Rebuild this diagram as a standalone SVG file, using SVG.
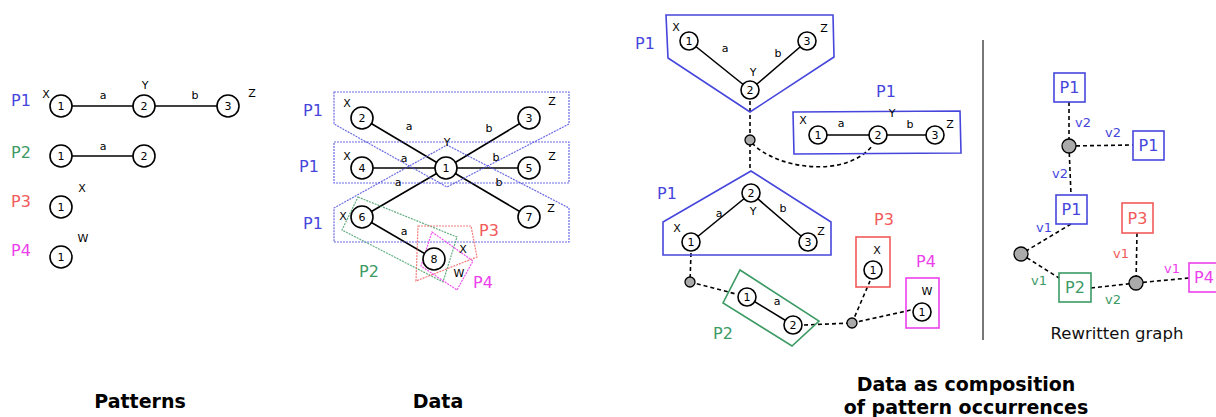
<svg xmlns="http://www.w3.org/2000/svg" width="1216" height="417" viewBox="0 0 1216 417">
<style>
text{font-family:"DejaVu Sans","Liberation Sans",sans-serif}
.n circle{fill:#fff;stroke:#000;stroke-width:1.6}
.n text{font-size:11px;text-anchor:middle;dominant-baseline:central;fill:#000}
.lb{font-size:11px;text-anchor:middle;dominant-baseline:central;fill:#000}
.e{stroke:#000;stroke-width:1.6;fill:none}
.d{stroke:#000;stroke-width:1.6;fill:none;stroke-dasharray:4 3}
.P{font-size:16px;text-anchor:middle;dominant-baseline:central}
.c1{fill:#4646dc}.c2{fill:#3c9a64}.c3{fill:#f25a5a}.c4{fill:#ec40ec}
.s1{stroke:#4646dc}.s2{stroke:#3c9a64}.s3{stroke:#f25a5a}.s4{stroke:#ec40ec}
.bx{fill:none;stroke-width:1.6}
.dp{fill:none;stroke-width:1.2;stroke-dasharray:2 1}
.dot{fill:#aaa;stroke:#000;stroke-width:1.3}
.t{font-size:19px;font-weight:bold;text-anchor:middle;fill:#000}
.v{font-size:13px;text-anchor:middle;dominant-baseline:central}
</style>

<!-- Connectors -->
<g id="connectors">
  <line class="e" x1="61" y1="106" x2="144" y2="106"/>
  <line class="e" x1="144" y1="106" x2="228" y2="106"/>
  <line class="e" x1="61" y1="156" x2="144" y2="156"/>
  <line class="e" x1="362" y1="118" x2="446" y2="168"/>
  <line class="e" x1="362" y1="168" x2="446" y2="168"/>
  <line class="e" x1="362" y1="217" x2="446" y2="168"/>
  <line class="e" x1="529" y1="118" x2="446" y2="168"/>
  <line class="e" x1="529" y1="168" x2="446" y2="168"/>
  <line class="e" x1="529" y1="217" x2="446" y2="168"/>
  <line class="e" x1="362" y1="217" x2="434" y2="259"/>
  <line class="e" x1="689" y1="41" x2="750" y2="90"/>
  <line class="e" x1="807" y1="41" x2="750" y2="90"/>
  <line class="e" x1="818" y1="135" x2="878" y2="135"/>
  <line class="e" x1="878" y1="135" x2="935" y2="135"/>
  <line class="e" x1="751" y1="193" x2="691" y2="242"/>
  <line class="e" x1="751" y1="193" x2="808" y2="242"/>
  <line class="e" x1="747" y1="297" x2="793" y2="325"/>
  <line class="d" x1="750" y1="101" x2="750" y2="171"/>
  <path class="d" d="M752,143 C775,168 845,180 873,145"/>
  <line class="d" x1="691" y1="253" x2="690" y2="282"/>
  <line class="d" x1="690" y1="282" x2="736" y2="294"/>
  <line class="d" x1="804" y1="325" x2="852" y2="323"/>
  <line class="d" x1="852" y1="323" x2="870" y2="281"/>
  <line class="d" x1="852" y1="323" x2="911" y2="310"/>
  <line class="d" x1="1069" y1="102" x2="1069" y2="146"/>
  <line class="d" x1="1069" y1="146" x2="1133" y2="145"/>
  <line class="d" x1="1069" y1="146" x2="1071" y2="195"/>
  <line class="d" x1="1071" y1="224" x2="1021" y2="254"/>
  <line class="d" x1="1021" y1="254" x2="1059" y2="278"/>
  <line class="d" x1="1091" y1="288" x2="1136" y2="283"/>
  <line class="d" x1="1137" y1="233" x2="1136" y2="283"/>
  <line class="d" x1="1136" y1="283" x2="1189" y2="278"/>
</g>

<!-- Patterns -->
<g id="patterns">
  <text class="P c1" x="21" y="100">P1</text>
  <text class="P c2" x="21" y="152">P2</text>
  <text class="P c3" x="21" y="201">P3</text>
  <text class="P c4" x="21" y="250">P4</text>
  <g class="n" id="p1n1"><circle cx="61" cy="106" r="11"/><text x="61" y="106">1</text></g>
  <g class="n" id="p1n2"><circle cx="144" cy="106" r="11"/><text x="144" y="106">2</text></g>
  <g class="n" id="p1n3"><circle cx="228" cy="106" r="11"/><text x="228" y="106">3</text></g>
  <text class="lb" x="46" y="94">X</text><text class="lb" x="103" y="95">a</text><text class="lb" x="145" y="85">Y</text><text class="lb" x="195" y="95">b</text><text class="lb" x="252" y="93">Z</text>
  <g class="n" id="p2n1"><circle cx="61" cy="156" r="11"/><text x="61" y="156">1</text></g>
  <g class="n" id="p2n2"><circle cx="144" cy="156" r="11"/><text x="144" y="156">2</text></g>
  <text class="lb" x="103" y="146">a</text>
  <g class="n" id="p3n1"><circle cx="61" cy="207" r="11"/><text x="61" y="207">1</text></g>
  <text class="lb" x="82" y="188">X</text>
  <g class="n" id="p4n1"><circle cx="61" cy="257" r="11"/><text x="61" y="257">1</text></g>
  <text class="lb" x="83" y="238">W</text>
</g>

<!-- Data -->
<g id="data">
  <polygon class="dp s1" opacity="0.8" points="334,92 569,92 569,124 447,187 334,124"/>
  <polygon class="dp s1" opacity="0.8" points="334,142 569,142 569,183 334,183"/>
  <polygon class="dp s1" opacity="0.8" points="334,242 569,242 569,208 447,145 334,208"/>
  <polygon class="dp s2" opacity="0.8" points="358,197 457,237 443,282 342,230"/>
  <polygon class="dp s3" opacity="0.8" points="418,226 471,226 477,257 416,281"/>
  <polygon class="dp s4" opacity="0.9" points="432,232 473,261 457,290 421,266"/>
  <g class="n" id="d1"><circle cx="446" cy="168" r="11"/><text x="446" y="168">1</text></g>
  <g class="n" id="d2"><circle cx="362" cy="118" r="11"/><text x="362" y="118">2</text></g>
  <g class="n" id="d3"><circle cx="529" cy="118" r="11"/><text x="529" y="118">3</text></g>
  <g class="n" id="d4"><circle cx="362" cy="168" r="11"/><text x="362" y="168">4</text></g>
  <g class="n" id="d5"><circle cx="529" cy="168" r="11"/><text x="529" y="168">5</text></g>
  <g class="n" id="d6"><circle cx="362" cy="217" r="11"/><text x="362" y="217">6</text></g>
  <g class="n" id="d7"><circle cx="529" cy="217" r="11"/><text x="529" y="217">7</text></g>
  <g class="n" id="d8"><circle cx="434" cy="259" r="11"/><text x="434" y="259">8</text></g>
  <text class="lb" x="347" y="103">X</text><text class="lb" x="552" y="101">Z</text>
  <text class="lb" x="409" y="126">a</text><text class="lb" x="489" y="128">b</text>
  <text class="lb" x="447" y="142">Y</text>
  <text class="lb" x="347" y="156">X</text><text class="lb" x="404" y="158">a</text><text class="lb" x="496" y="157">b</text><text class="lb" x="552" y="156">Z</text>
  <text class="lb" x="398" y="182">a</text><text class="lb" x="499" y="182">b</text>
  <text class="lb" x="343" y="216">X</text><text class="lb" x="551" y="208">Z</text>
  <text class="lb" x="404" y="231">a</text>
  <text class="lb" x="463" y="249">X</text><text class="lb" x="459" y="273">W</text>
  <text class="P c1" x="313" y="110">P1</text>
  <text class="P c1" x="309" y="166">P1</text>
  <text class="P c1" x="313" y="223">P1</text>
  <text class="P c2" x="369" y="271">P2</text>
  <text class="P c3" x="489" y="230">P3</text>
  <text class="P c4" x="483" y="282">P4</text>
</g>

<!-- Composition -->
<g id="occ-p1-top">
  <polygon class="bx s1" points="666,15 833,15 834,57 750,112 668,58"/>
  <g class="n"><circle cx="689" cy="41" r="9"/><text x="689" y="41">1</text></g>
  <g class="n"><circle cx="807" cy="41" r="9"/><text x="807" y="41">3</text></g>
  <g class="n"><circle cx="750" cy="90" r="9"/><text x="750" y="90">2</text></g>
  <text class="lb" x="676" y="27">X</text><text class="lb" x="725" y="48">a</text><text class="lb" x="778" y="53">b</text><text class="lb" x="824" y="28">Z</text><text class="lb" x="753" y="72">Y</text>
  <text class="P c1" x="645" y="43">P1</text>
</g>
<g id="occ-p1-right">
  <polygon class="bx s1" points="793,112 960,111 961,153 794,154"/>
  <g class="n"><circle cx="818" cy="135" r="9"/><text x="818" y="135">1</text></g>
  <g class="n"><circle cx="878" cy="135" r="9"/><text x="878" y="135">2</text></g>
  <g class="n"><circle cx="935" cy="135" r="9"/><text x="935" y="135">3</text></g>
  <text class="lb" x="803" y="120">X</text><text class="lb" x="841" y="123">a</text><text class="lb" x="892" y="113">Y</text><text class="lb" x="910" y="124">b</text><text class="lb" x="950" y="124">Z</text>
  <text class="P c1" x="886" y="91">P1</text>
</g>
<g id="occ-p1-bottom">
  <polygon class="bx s1" points="751,171 831,222 831,255 663,255 663,222"/>
  <g class="n"><circle cx="751" cy="193" r="9"/><text x="751" y="193">2</text></g>
  <g class="n"><circle cx="691" cy="242" r="9"/><text x="691" y="242">1</text></g>
  <g class="n"><circle cx="808" cy="242" r="9"/><text x="808" y="242">3</text></g>
  <text class="lb" x="719" y="213">a</text><text class="lb" x="753" y="211">Y</text><text class="lb" x="783" y="208">b</text><text class="lb" x="677" y="228">X</text><text class="lb" x="821" y="231">Z</text>
  <text class="P c1" x="667" y="193">P1</text>
</g>
<g id="occ-p2">
  <polygon class="bx s2" points="740,270 819,321 792,346 723,303"/>
  <g class="n"><circle cx="747" cy="297" r="9"/><text x="747" y="297">1</text></g>
  <g class="n"><circle cx="793" cy="325" r="9"/><text x="793" y="325">2</text></g>
  <text class="lb" x="777" y="301">a</text>
  <text class="P c2" x="723" y="333">P2</text>
</g>
<g id="occ-p3">
  <rect class="bx s3" x="856" y="237" width="34" height="50"/>
  <g class="n"><circle cx="873" cy="270" r="9"/><text x="873" y="270">1</text></g>
  <text class="lb" x="877" y="250">X</text>
  <text class="P c3" x="884" y="219">P3</text>
</g>
<g id="occ-p4">
  <rect class="bx s4" x="906" y="278" width="33" height="50"/>
  <g class="n"><circle cx="922" cy="312" r="9"/><text x="922" y="312">1</text></g>
  <text class="lb" x="927" y="291">W</text>
  <text class="P c4" x="926" y="261">P4</text>
</g>
<g id="occ-dots">
  <circle class="dot" cx="750" cy="140" r="5"/>
  <circle class="dot" cx="690" cy="282" r="5"/>
  <circle class="dot" cx="852" cy="323" r="5"/>
</g>

<line x1="983" y1="40" x2="983" y2="340" stroke="#777" stroke-width="2"/>

<!-- Rewritten graph -->
<g id="rw-p1a"><rect class="bx s1" x="1054" y="73" width="31" height="29"/><text class="P c1" x="1069.5" y="87.5">P1</text></g>
<g id="rw-p1b"><rect class="bx s1" x="1133" y="131" width="31" height="29"/><text class="P c1" x="1148.5" y="145.5">P1</text></g>
<g id="rw-p1c"><rect class="bx s1" x="1056" y="195" width="31" height="29"/><text class="P c1" x="1071.5" y="209.5">P1</text></g>
<g id="rw-p3"><rect class="bx s3" x="1122" y="203" width="31" height="30"/><text class="P c3" x="1137.5" y="218">P3</text></g>
<g id="rw-p2"><rect class="bx s2" x="1059" y="273" width="32" height="29"/><text class="P c2" x="1075" y="287.5">P2</text></g>
<g id="rw-p4"><rect class="bx s4" x="1189" y="263" width="31" height="29"/><text class="P c4" x="1204" y="277.5">P4</text></g>
<g id="rw-dots">
  <circle class="dot" cx="1069" cy="146" r="7"/>
  <circle class="dot" cx="1021" cy="254" r="7"/>
  <circle class="dot" cx="1136" cy="283" r="7"/>
</g>
<g id="rw-labels">
  <text class="v c1" x="1083" y="122">v2</text>
  <text class="v c1" x="1113" y="132">v2</text>
  <text class="v c1" x="1060" y="173">v2</text>
  <text class="v c1" x="1044" y="227">v1</text>
  <text class="v c2" x="1039" y="280">v1</text>
  <text class="v c2" x="1113" y="299">v2</text>
  <text class="v c3" x="1121" y="253">v1</text>
  <text class="v c4" x="1172" y="268">v1</text>
  <text x="1117" y="339" font-size="16.5" text-anchor="middle" fill="#111">Rewritten graph</text>
</g>

<g id="titles">
  <text class="t" x="140" y="408">Patterns</text>
  <text class="t" x="438" y="408">Data</text>
  <text class="t" x="966" y="391">Data as composition</text>
  <text class="t" x="966" y="414">of pattern occurrences</text>
</g>
</svg>
